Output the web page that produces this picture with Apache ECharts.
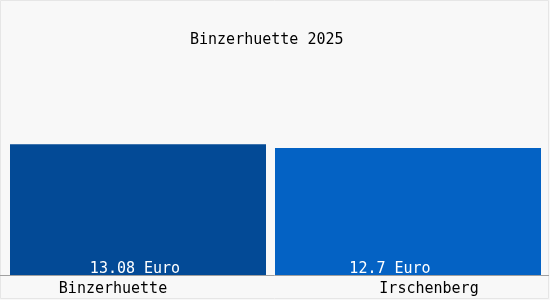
<!DOCTYPE html>
<html><head><meta charset="utf-8">
<script src="https://cdn.jsdelivr.net/npm/echarts@6/dist/echarts.min.js"></script>
<style>html,body{margin:0;padding:0;background:#f8f8f8;}#c{width:550px;height:300px;}</style>
</head><body><div id="c"></div>
<script>
var titleText = 'Binzerhuette 2025';
var categories = ['Binzerhuette', 'Irschenberg'];
var values = [13.08, 12.7];
var valueLabels = ['13.08 Euro', '12.7 Euro'];
var colors = ['#034a96', '#0462c4'];

var FONT = '"DejaVu Sans Mono", monospace';
var chart = echarts.init(document.getElementById('c'), null, {renderer: 'canvas'});
var grids = [
  {left: 10, width: 256, top: 75, bottom: 25},
  {left: 275, width: 266, top: 75, bottom: 25}
];
var catPad = [[0, 50, 0, 0], [0, 0, 0, 42]];
var labOff = [[-3, 0], [-18, 0]];
var option = {
  backgroundColor: '#f8f8f8',
  animation: false,
  title: {
    text: titleText, left: 190, top: 33, padding: 0,
    textStyle: {fontFamily: FONT, fontSize: 15, fontWeight: 'normal', color: '#000'}
  },
  grid: grids,
  xAxis: categories.map(function (c, i) {
    return {
      type: 'category', gridIndex: i, data: [c],
      axisLine: {show: false}, axisTick: {show: false},
      axisLabel: {fontFamily: FONT, fontSize: 15, color: '#000', margin: 7, padding: catPad[i]}
    };
  }),
  yAxis: categories.map(function (c, i) {
    return {type: 'value', gridIndex: i, min: 0, max: 20, show: false};
  }),
  series: categories.map(function (c, i) {
    return {
      type: 'bar', xAxisIndex: i, yAxisIndex: i,
      data: [values[i]], barCategoryGap: 0,
      itemStyle: {color: colors[i]},
      label: {
        show: true, position: 'insideBottom', distance: -2, offset: labOff[i],
        formatter: valueLabels[i],
        fontFamily: FONT, fontSize: 15, color: '#fff'
      }
    };
  }),
  graphic: [
    {type: 'rect', shape: {x: 0.5, y: 0.5, width: 548, height: 298}, style: {fill: null, stroke: '#e6e6e6', lineWidth: 1}, silent: true},
    {type: 'line', shape: {x1: 0, y1: 275.5, x2: 549, y2: 275.5}, style: {stroke: '#a0a0a0', lineWidth: 1}, z: 10, silent: true}
  ]
};
chart.setOption(option);
</script></body></html>
